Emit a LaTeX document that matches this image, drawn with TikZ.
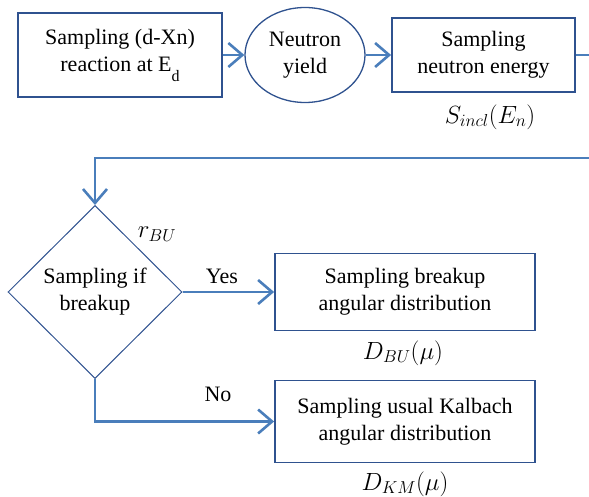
\documentclass[tikz,border=0pt]{standalone}
\usepackage{fontspec}
\setmainfont{Liberation Serif}
\usetikzlibrary{positioning,calc}
\usetikzlibrary{arrows.meta,shapes.geometric}
\definecolor{BoxBlue}{RGB}{47,82,143}
\definecolor{FlowBlue}{RGB}{74,126,187}
\tikzset{
	stepbox/.style={draw=BoxBlue,line width=1.8pt,fill=white,align=center,inner sep=0pt,
		font=\fontsize{22}{27}\selectfont},
	choice/.style={diamond,draw=BoxBlue,line width=1pt,inner sep=0pt,align=center,
		font=\fontsize{22}{27}\selectfont},
	flow/.style={draw=FlowBlue,line width=2.8pt,-{Straight Barb[length=14pt,width=24pt,line width=2.6pt]}},
	link/.style={draw=FlowBlue,line width=2.8pt},
	tag/.style={inner sep=0pt,font=\fontsize{22}{27}\selectfont},
	mtag/.style={inner sep=0pt,font=\fontsize{23.5}{27}\selectfont},
}

\begin{document}
\begin{tikzpicture}[x=1pt,y=-1pt]
			\useasboundingbox (0,0) rectangle (589,497);
			\node[stepbox,minimum width=204pt,minimum height=84pt] (react) at (120,55) {Sampling (d-Xn)\\reaction at E\raisebox{-10pt}{\fontsize{16}{16}\selectfont d}};
			\node[stepbox,ellipse,line width=1.3pt,minimum width=120pt,minimum height=95pt] (yield) at (305,55) {Neutron\\yield};
			\node[stepbox,minimum width=183pt,minimum height=74pt] (energy) at (483.5,55) {Sampling\\neutron energy};
			\node[choice,minimum width=174pt,minimum height=173pt] (breakup) at (95,292) {Sampling if\\breakup};
			\node[stepbox,minimum width=260pt,minimum height=77pt] (bu) at (405,292) {Sampling breakup\\angular distribution};
			\node[stepbox,minimum width=260pt,minimum height=82pt] (km) at (405,421.5) {Sampling usual Kalbach\\angular distribution};
			% labels
			\node[mtag] (sincl) at (490,117) {$S_{incl}(E_n)$};
			\node[mtag] (rbu) at (157,234) {$r_{BU}$};
			\node[tag] (yes) at (222,276) {Yes};
			\node[tag] (no) at (218,394) {No};
			\node[mtag] (dbu) at (403,353) {$D_{BU}(\mu)$};
			\node[mtag] (dkm) at (405,484) {$D_{KM}(\mu)$};
			% connectors
			\coordinate (eR) at (589,55);
			\coordinate (loopR) at (589,158);
			\foreach \a/\b in {react/yield,yield/energy,breakup.east/bu}
			\draw[flow] (\a) -- (\b);
			\draw[link] (energy) -- (eR);
			\draw[flow] (loopR) -| (breakup.north);
			\draw[flow] (breakup.south) |- (km);
		\end{tikzpicture}
\end{document}
